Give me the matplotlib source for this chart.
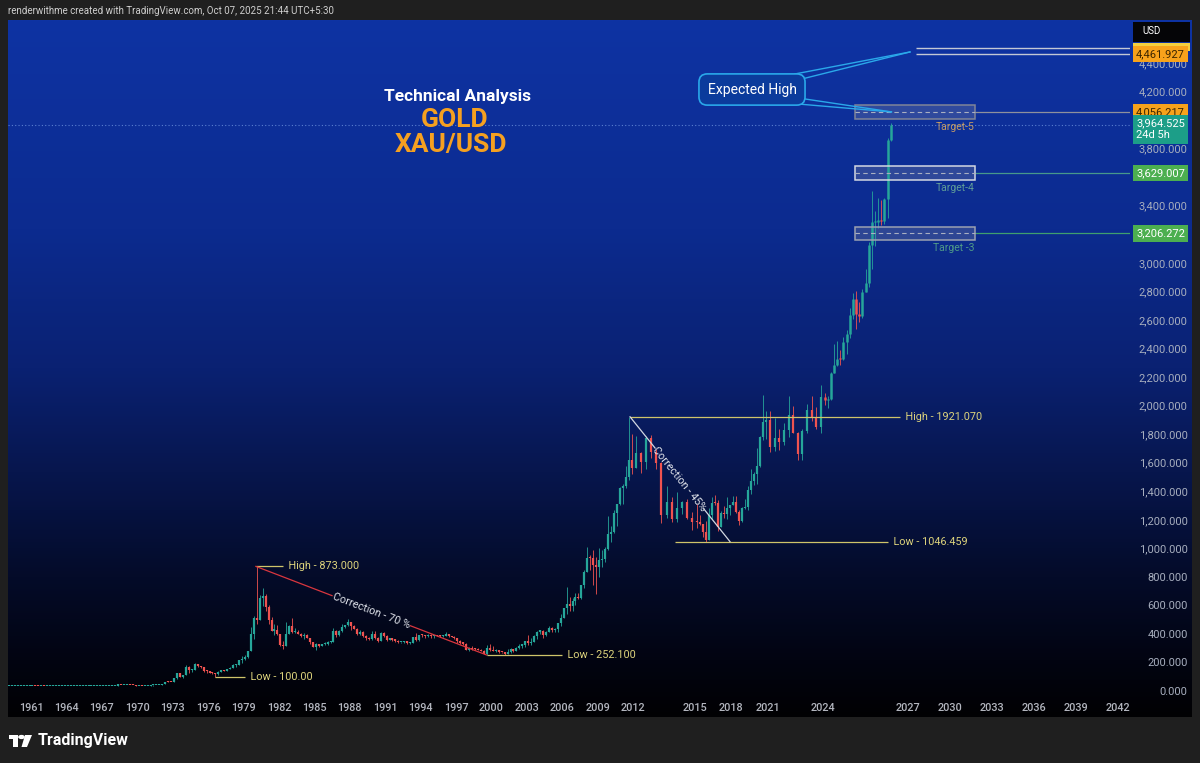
import numpy as np
import matplotlib.pyplot as plt
from matplotlib.colors import LinearSegmentedColormap
from matplotlib.patches import Rectangle, Circle, Polygon
from matplotlib.lines import Line2D
from matplotlib.transforms import blended_transform_factory, IdentityTransform

plt.rcParams['font.family'] = ['Roboto', 'DejaVu Sans']

# XAU/USD quarterly candles, 1959 Q1 .. 2023 Q4 (two years per row)
q_close = [
    35.1, 35.1, 35.1, 35.1, 35.1, 35.1, 35.2, 35.3,
    35.4, 35.3, 35.2, 35.2, 35.1, 35.1, 35.1, 35.1,
    35.1, 35.1, 35.1, 35.1, 35.1, 35.1, 35.1, 35.1,
    35.1, 35.1, 35.2, 35.2, 35.2, 35.2, 35.2, 35.2,
    35.2, 35.2, 35.2, 35.2, 38.0, 40.5, 39.5, 41.9,
    43.3, 41.3, 40.7, 35.2, 35.9, 35.5, 36.2, 37.4,
    38.9, 40.1, 42.0, 43.6, 48.3, 65.1, 65.0, 64.9,
    90.0, 123.3, 100.0, 112.3, 168.0, 144.0, 150.0, 186.5,
    177.0, 166.0, 141.0, 140.3, 129.0, 123.0, 117.0, 134.5,
    149.0, 141.0, 154.0, 164.0, 181.0, 183.0, 217.0, 226.0,
    240.0, 277.0, 397.0, 512.0, 494.0, 653.0, 666.0, 589.8,
    499.0, 423.0, 428.0, 397.0, 320.0, 317.0, 397.0, 456.0,
    414.0, 416.0, 402.0, 382.0, 394.0, 373.0, 341.0, 308.0,
    331.0, 317.0, 326.0, 327.0, 345.0, 345.0, 423.0, 390.0,
    421.0, 447.0, 459.0, 484.0, 457.0, 436.0, 397.0, 410.0,
    385.0, 373.0, 366.0, 401.0, 368.0, 352.0, 408.0, 386.0,
    355.0, 368.0, 354.0, 353.0, 341.0, 343.0, 349.0, 333.0,
    337.0, 378.0, 355.0, 391.0, 389.0, 385.0, 394.0, 383.0,
    391.0, 387.0, 384.0, 387.0, 396.0, 382.0, 379.0, 369.0,
    348.0, 334.0, 332.0, 290.0, 301.0, 296.0, 294.0, 288.0,
    280.0, 261.0, 299.0, 290.0, 278.0, 288.0, 273.0, 272.0,
    258.0, 270.0, 293.0, 277.0, 302.0, 318.0, 323.0, 347.0,
    334.0, 346.0, 388.0, 416.0, 423.0, 395.0, 415.0, 438.0,
    427.0, 437.0, 473.0, 513.0, 582.0, 613.0, 599.0, 632.0,
    662.0, 650.0, 743.0, 834.0, 933.0, 930.0, 884.0, 869.0,
    916.0, 927.0, 996.0, 1097.0, 1113.0, 1244.0, 1307.0, 1421.0,
    1439.0, 1500.0, 1620.0, 1565.0, 1668.0, 1604.0, 1776.0, 1675.0,
    1596.0, 1234.0, 1327.0, 1202.0, 1284.0, 1327.0, 1211.0, 1184.0,
    1183.0, 1172.0, 1115.0, 1061.0, 1233.0, 1320.0, 1316.0, 1152.0,
    1249.0, 1242.0, 1280.0, 1303.0, 1325.0, 1253.0, 1192.0, 1282.0,
    1292.0, 1409.0, 1472.0, 1517.0, 1577.0, 1781.0, 1886.0, 1898.0,
    1707.0, 1770.0, 1743.0, 1829.0, 1937.0, 1807.0, 1661.0, 1824.0,
    1969.0, 1919.0, 1849.0, 2063.0,
]
q_high = [
    35.2, 35.2, 35.2, 35.2, 35.2, 35.2, 35.4, 35.6,
    35.5, 35.4, 35.3, 35.3, 35.2, 35.2, 35.2, 35.2,
    35.2, 35.2, 35.2, 35.2, 35.2, 35.2, 35.2, 35.2,
    35.2, 35.2, 35.3, 35.3, 35.3, 35.3, 35.3, 35.3,
    35.3, 35.3, 35.3, 35.3, 38.5, 42.0, 40.5, 42.0,
    43.8, 43.5, 41.5, 40.7, 36.0, 36.0, 36.5, 37.5,
    39.0, 40.5, 42.7, 43.8, 48.7, 65.5, 70.0, 65.3,
    92.0, 127.0, 123.0, 112.5, 180.0, 175.0, 154.0, 195.0,
    186.0, 178.0, 166.0, 145.0, 141.0, 130.0, 123.0, 140.0,
    150.0, 150.0, 156.0, 165.0, 190.0, 186.0, 220.0, 246.0,
    255.0, 280.0, 447.0, 524.0, 873.0, 675.0, 720.0, 680.0,
    600.0, 520.0, 470.0, 460.0, 390.0, 350.0, 481.0, 460.0,
    509.0, 440.0, 425.0, 405.0, 405.0, 400.0, 365.0, 340.0,
    338.0, 330.0, 331.0, 340.0, 350.0, 350.0, 440.0, 425.0,
    425.0, 470.0, 465.0, 502.0, 485.0, 462.0, 440.0, 430.0,
    418.0, 390.0, 375.0, 418.0, 423.0, 375.0, 415.0, 410.0,
    390.0, 370.0, 370.0, 362.0, 356.0, 345.0, 351.0, 350.0,
    340.0, 380.0, 406.0, 395.0, 396.0, 392.0, 396.0, 396.0,
    393.0, 392.0, 390.0, 392.0, 415.0, 399.0, 387.0, 384.0,
    368.0, 354.0, 343.0, 336.0, 305.0, 312.0, 300.0, 300.0,
    294.0, 287.0, 325.0, 326.0, 316.0, 294.0, 290.0, 276.0,
    272.0, 294.0, 298.0, 292.0, 305.0, 329.0, 328.0, 350.0,
    389.0, 370.0, 390.0, 417.0, 430.0, 428.0, 420.0, 456.0,
    445.0, 440.0, 475.0, 538.0, 585.0, 730.0, 660.0, 650.0,
    690.0, 690.0, 745.0, 845.0, 1011.0, 950.0, 988.0, 940.0,
    1005.0, 990.0, 1010.0, 1226.0, 1153.0, 1266.0, 1310.0, 1431.0,
    1447.0, 1577.0, 1921.0, 1804.0, 1790.0, 1677.0, 1788.0, 1796.0,
    1697.0, 1605.0, 1434.0, 1362.0, 1392.0, 1332.0, 1345.0, 1255.0,
    1308.0, 1232.0, 1170.0, 1191.0, 1283.0, 1362.0, 1375.0, 1337.0,
    1264.0, 1296.0, 1357.0, 1306.0, 1366.0, 1366.0, 1265.0, 1287.0,
    1346.0, 1439.0, 1557.0, 1535.0, 1703.0, 1789.0, 2075.0, 1965.0,
    1959.0, 1916.0, 1834.0, 1877.0, 2070.0, 1998.0, 1814.0, 1833.0,
    2009.0, 2067.0, 1987.0, 2146.0,
]
q_low = [
    35.0, 35.0, 35.0, 35.0, 35.0, 35.0, 35.1, 35.1,
    35.2, 35.2, 35.1, 35.1, 35.0, 35.0, 35.0, 35.0,
    35.0, 35.0, 35.0, 35.0, 35.0, 35.0, 35.0, 35.0,
    35.0, 35.0, 35.1, 35.1, 35.1, 35.1, 35.1, 35.1,
    35.1, 35.1, 35.1, 35.1, 35.2, 37.0, 38.8, 39.3,
    41.9, 40.8, 39.8, 35.0, 34.8, 35.2, 35.4, 36.2,
    37.3, 38.0, 40.1, 41.9, 43.5, 48.0, 62.0, 61.5,
    64.0, 84.0, 95.0, 90.0, 115.0, 128.0, 132.0, 146.0,
    166.0, 162.0, 130.0, 128.8, 125.0, 122.0, 100.0, 115.0,
    132.0, 139.0, 139.0, 151.0, 165.0, 170.0, 183.0, 195.0,
    216.0, 230.0, 277.0, 365.0, 470.0, 495.0, 595.0, 560.0,
    470.0, 418.0, 390.0, 390.0, 313.0, 297.0, 340.0, 400.0,
    408.0, 405.0, 400.0, 375.0, 365.0, 371.0, 330.0, 305.0,
    284.0, 309.0, 315.0, 319.0, 325.0, 335.0, 345.0, 380.0,
    387.0, 416.0, 444.0, 455.0, 430.0, 435.0, 395.0, 395.0,
    380.0, 358.0, 356.0, 360.0, 365.0, 345.0, 350.0, 375.0,
    352.0, 354.0, 350.0, 343.0, 337.0, 333.0, 338.0, 330.0,
    326.0, 336.0, 350.0, 350.0, 375.0, 370.0, 380.0, 374.0,
    372.0, 382.0, 380.0, 381.0, 383.0, 380.0, 378.0, 366.0,
    336.0, 332.0, 320.0, 284.0, 279.0, 284.0, 285.0, 285.0,
    278.0, 257.0, 252.1, 280.0, 278.0, 274.0, 269.0, 264.0,
    255.0, 257.0, 265.0, 272.0, 277.0, 296.0, 302.0, 310.0,
    320.0, 320.0, 342.0, 364.0, 399.0, 373.0, 386.0, 412.0,
    411.0, 415.0, 416.0, 456.0, 525.0, 542.0, 560.0, 560.0,
    605.0, 642.0, 648.0, 722.0, 834.0, 850.0, 740.0, 681.0,
    800.0, 866.0, 905.0, 990.0, 1045.0, 1105.0, 1157.0, 1305.0,
    1309.0, 1420.0, 1478.0, 1523.0, 1563.0, 1527.0, 1556.0, 1635.0,
    1555.0, 1180.0, 1210.0, 1181.0, 1182.0, 1240.0, 1205.0, 1131.0,
    1142.0, 1162.0, 1077.0, 1046.5, 1061.0, 1208.0, 1302.0, 1123.0,
    1146.0, 1214.0, 1205.0, 1236.0, 1302.0, 1246.0, 1160.0, 1183.0,
    1276.0, 1266.0, 1381.0, 1445.0, 1451.0, 1568.0, 1757.0, 1764.0,
    1677.0, 1679.0, 1690.0, 1722.0, 1780.0, 1805.0, 1615.0, 1618.0,
    1805.0, 1893.0, 1833.0, 1810.0,
]
# monthly candles, Jan 2024 .. Oct 2025
m_close = [2039, 2044, 2229, 2286, 2327, 2326, 2447, 2503, 2634, 2744, 2643, 2624,
           2798, 2857, 3124, 3288, 3289, 3303, 3290, 3448, 3858, 3964.525]
m_high = [2088, 2065, 2236, 2431, 2450, 2387, 2483, 2531, 2685, 2790, 2801, 2726,
          2817, 2956, 3148, 3500, 3365, 3452, 3439, 3453, 3871, 3977]
m_low = [2002, 1984, 2039, 2228, 2277, 2286, 2319, 2364, 2472, 2603, 2537, 2583,
         2614, 2833, 2832, 2957, 3121, 3247, 3268, 3269, 3311, 3850]

year_ticks = [1961, 1964, 1967, 1970, 1973, 1976, 1979, 1982, 1985, 1988, 1991, 1994,
              1997, 2000, 2003, 2006, 2009, 2012, 2015, 2018, 2021, 2024, 2027, 2030,
              2033, 2036, 2039, 2042]
price_ticks = [0, 200, 400, 600, 800, 1000, 1200, 1400, 1600, 1800, 2000, 2200, 2400,
               2600, 2800, 3000, 3400, 3800, 4200, 4400]

# swing points (year, price)
low_1976 = (1976.6, 100.0)
high_1980 = (1980.05, 873.0)
low_1999 = (1999.6, 252.1)
high_2011 = (2011.75, 1921.07)
low_2015 = (2015.95, 1046.459)

targets = [("Target-5", 4056.217), ("Target-4", 3629.007), ("Target -3", 3206.272)]
last_price = 3964.525
expected_high = [4505.0, 4461.927]

# TradingView time axis is not linear in years: anchor years -> screen position
scale_years = [1950, 1961, 2012, 2015, 2018, 2021, 2024, 2025.8, 2027, 2042, 2050]
scale_pos = [-98.8, 31, 633, 695, 731, 768, 823, 891, 908, 1118, 1230]


def fwd(x):
    return np.interp(x, scale_years, scale_pos)


def inv(p):
    return np.interp(p, scale_pos, scale_years)


W, H = 1200, 763
fig = plt.figure(figsize=(12, 7.63), dpi=100, facecolor='#1f1f1f')

# gradient panel
bg = fig.add_axes([8 / W, (H - 717) / H, 1184 / W, 697 / H])
cmap = LinearSegmentedColormap.from_list('tvbg', [
    (0.0, '#0e33a3'), (0.3, '#0c2b8f'), (0.5, '#0a2172'), (0.65, '#07164d'),
    (0.8, '#040b29'), (0.92, '#020411'), (1.0, '#010103')])
bg.imshow(np.linspace(0, 1, 256)[:, None], aspect='auto', cmap=cmap, extent=(0, 1, 0, 1))
bg.axis('off')

ax = fig.add_axes([8 / W, (H - 697) / H, 1122 / W, 675 / H])
ax.patch.set_alpha(0)
ax.set_xscale('function', functions=(fwd, inv))
ax.set_xlim(inv(8), inv(1130))
ax.set_ylim(-42, 4687)
for s in ax.spines.values():
    s.set_visible(False)

ax.set_xticks(year_ticks)
ax.set_xticklabels([str(y) for y in year_ticks])
ax.tick_params(axis='x', length=0, pad=4.5, labelsize=7.8, labelcolor='#b3b6bf')
for t in ax.get_xticklabels():
    t.set_fontweight('medium')
ax.yaxis.tick_right()
ax.set_yticks(price_ticks)
ax.set_yticklabels([f'{p:,.3f}' for p in price_ticks])
ax.tick_params(axis='y', length=0, pad=41.5, labelsize=8, labelcolor='#a7aebe')
for t in ax.get_yticklabels():
    t.set_ha('right')

UP, DOWN = '#26a69a', '#ef5350'


def candles(t, c, h, l, prev, lw):
    c = np.asarray(c, float)
    o = np.r_[prev, c[:-1]]
    top, bot = np.maximum(o, c), np.minimum(o, c)
    h = np.maximum(np.asarray(h, float), top)
    l = np.minimum(np.asarray(l, float), bot)
    col = np.where(c >= o, UP, DOWN)
    ax.vlines(t, l, h, colors=col, lw=0.6, zorder=3)
    # keep doji bodies visible (at least ~1 px tall)
    ax.vlines(t, bot, np.maximum(top, bot + 8), colors=col, lw=lw, zorder=3)


q_time = 1959 + 0.25 * np.arange(len(q_close)) + 0.125
m_time = 2024 + np.arange(len(m_close)) / 12 + 1 / 24
candles(q_time, q_close, q_high, q_low, q_close[0], 1.6)
candles(m_time, m_close, m_high, m_low, q_close[-1], 1.8)

# swing annotations
KHAKI, KTXT = '#cfc46a', '#ddd37c'
x_end = inv(1130)


def level(x0, x1, y, text, col=KHAKI):
    ax.hlines(y, x0, x1, colors=col, lw=0.9, zorder=4)
    ax.text(x1, y, '  ' + text, color=KTXT, fontsize=7.8,
            va='center', ha='left', zorder=5)


level(low_1976[0], inv(245), low_1976[1], 'Low - 100.00')
level(high_1980[0], inv(283), high_1980[1], 'High - 873.000')
level(low_1999[0], inv(562), low_1999[1], 'Low - 252.100')
level(high_2011[0], inv(900), high_2011[1], 'High - 1921.070')
level(inv(675), inv(888), low_2015[1], 'Low - 1046.459')


def split_line(p0, p1, gap, color, text):
    a, b = ax.transData.transform([p0, p1])
    g0, g1 = a + (b - a) * gap[0], a + (b - a) * gap[1]
    for s, e in ((a, g0), (g1, b)):
        ax.add_line(Line2D([s[0], e[0]], [s[1], e[1]], transform=IdentityTransform(),
                           color=color, lw=0.9, zorder=4))
    m = (g0 + g1) / 2
    ang = np.degrees(np.arctan2(b[1] - a[1], b[0] - a[0]))
    ax.text(m[0], m[1], text, transform=IdentityTransform(), rotation=ang,
            rotation_mode='anchor', ha='center', va='center', color='#dfe2ea',
            fontsize=7.8, zorder=5)


split_line(high_1980, low_1999, (0.33, 0.67), '#d9363e', 'Correction - 70 %')
split_line(high_2011, (inv(730), low_2015[1]), (0.25, 0.74), '#d4d8e2', 'Correction - 45%')

# target zones
box_x0, box_x1 = inv(855), inv(975)
zone = {"Target-5": ('#7f8598', '#8e919c', '#c29a66'),
        "Target-4": ('#d3d7e2', '#47998b', '#5f9c98'),
        "Target -3": ('#9ba1b1', '#3f9f6e', '#4f9a88')}
for name, price in targets:
    ec, lc, tc = zone[name]
    ax.add_patch(Rectangle((box_x0, price - 47), box_x1 - box_x0, 94, fc='#8a90a6',
                           alpha=0.28, ec='none', zorder=2))
    ax.add_patch(Rectangle((box_x0, price - 47), box_x1 - box_x0, 94, fill=False,
                           ec=ec, lw=1.1, zorder=4))
    ax.hlines(price, box_x0, box_x1, colors='#aab0c2', lw=0.8, linestyles=(0, (4, 3)), zorder=4)
    ax.hlines(price, box_x1, x_end, colors=lc, lw=0.9, zorder=2)
    ax.text(box_x1, price - 105, name, color=tc, fontsize=7.5, ha='right', va='center', zorder=5)

# current price and expected high
ax.axhline(last_price, color='#5b80d0', lw=0.8, ls=(0, (1, 2)), zorder=1)
for p in expected_high:
    ax.hlines(p, inv(916), x_end, colors='#c3c8d5', lw=1.0, zorder=2)

ax.text(inv(752), 4214, 'Expected High', color='white', fontsize=10, ha='center',
        va='center', zorder=6,
        bbox=dict(boxstyle='round,pad=0.62,rounding_size=0.6', fc='#0b3b9c',
                  ec='#2aa8ea', lw=1.2))
CY = '#2aa8ea'
for base, tip in [((2022.47, 4323), (2027.14, 4477)), ((2022.64, 4281), (2027.14, 4477)),
                  ((2022.64, 4155), (2025.83, 4057)), ((2022.6, 4113), (2025.83, 4057))]:
    ax.plot([base[0], tip[0]], [base[1], tip[1]], color=CY, lw=1.0, zorder=5)

# price scale labels
lab_tr = blended_transform_factory(ax.transAxes, ax.transData)
lx = (1136 - 8) / 1122


def price_label(y, text, fc, tc):
    ax.text(lx, y, text, transform=lab_tr, fontsize=8, color=tc, ha='left', va='center',
            zorder=8, clip_on=False,
            bbox=dict(boxstyle='square,pad=0.3', fc=fc, ec='none'))


# yellow label mostly hidden behind the orange one
ax.add_patch(Rectangle((1 + 3 / 1122, expected_high[0] - 20), 57 / 1122, 55, transform=lab_tr,
                       fc='#f4d03f', ec='none', zorder=7, clip_on=False))
price_label(expected_high[1], f'{expected_high[1]:,.3f}', '#f7a21b', '#3a2500')
price_label(targets[0][1], f'{targets[0][1]:,.3f}', '#f7a21b', '#3a2500')
price_label(targets[1][1], f'{targets[1][1]:,.3f}', '#4caf50', 'white')
price_label(targets[2][1], f'{targets[2][1]:,.3f}', '#4caf50', 'white')
ax.text(lx, 4010, f'{last_price:,.3f}\n24d 5h', transform=lab_tr, fontsize=8,
        color='white', ha='left', va='top', zorder=8, clip_on=False, linespacing=1.2,
        bbox=dict(boxstyle='square,pad=0.3', fc='#1c9e88', ec='none'))

# USD box
fig.patches.append(Rectangle((1133 / W, 1 - 42 / H), 57 / W, 20 / H, transform=fig.transFigure,
                             fc='#050507', ec='none', zorder=10))
fig.text(1142 / W, 1 - 31 / H, 'USD', color='white', fontsize=7, va='center', zorder=11)

# titles
fig.text(457 / W, 1 - 96 / H, 'Technical Analysis', color='white', fontsize=12.5,
         fontweight='bold', ha='center', va='center')
fig.text(455 / W, 1 - 120 / H, 'GOLD', color='#f5a020', fontsize=19, fontweight='bold',
         ha='center', va='center')
fig.text(451 / W, 1 - 145 / H, 'XAU/USD', color='#f5a020', fontsize=19, fontweight='bold',
         ha='center', va='center')

# header and footer
fig.text(8 / W, 1 - 11 / H, 'renderwithme created with TradingView.com, Oct 07, 2025 21:44 UTC+5:30',
         color='#cfcfcf', fontsize=7, va='center')
fig.text(38 / W, 1 - 741 / H, 'TradingView', color='white', fontsize=11.5, fontweight='bold',
         va='center')
ft = fig.transFigure
for patch in [Rectangle((9 / W, 1 - 739 / H), 9 / W, 4 / H),
              Rectangle((13 / W, 1 - 747 / H), 5 / W, 12 / H),
              Circle((21.5 / W, 1 - 737 / H), 0.0028),
              Polygon([(25 / W, 1 - 735 / H), (32 / W, 1 - 735 / H),
                       (27 / W, 1 - 747 / H), (21.5 / W, 1 - 747 / H)])]:
    patch.set_transform(ft)
    patch.set_facecolor('white')
    patch.set_edgecolor('none')
    fig.patches.append(patch)

fig.savefig('out.png', dpi=100, facecolor=fig.get_facecolor())
